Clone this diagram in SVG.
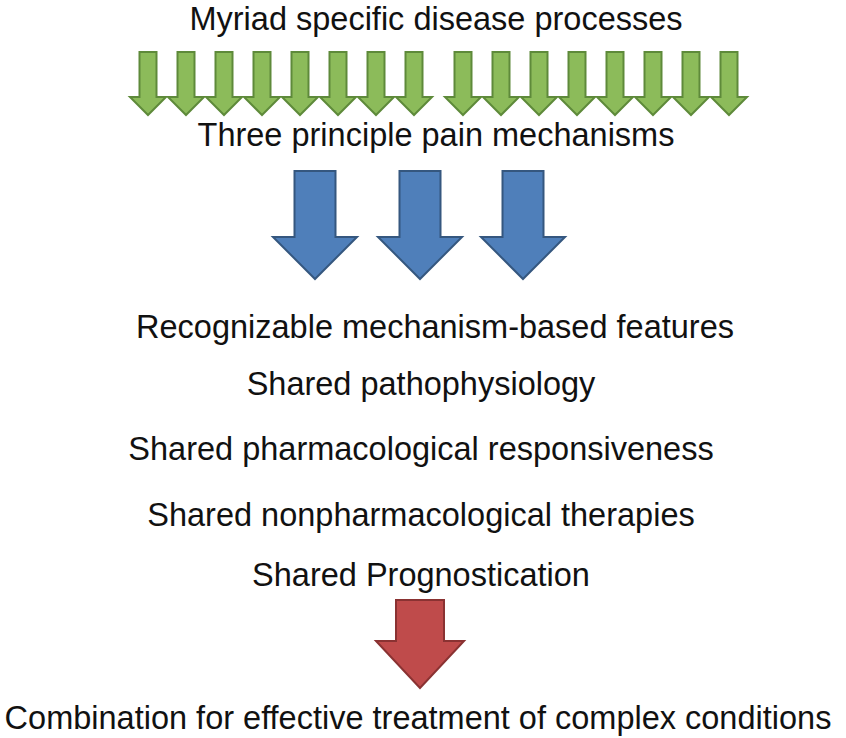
<svg xmlns="http://www.w3.org/2000/svg" width="846" height="738" viewBox="0 0 846 738">
<style>
text{font-family:"Liberation Sans",Arial,sans-serif;font-size:32.5px;fill:#111;text-anchor:middle}
.g{fill:#8cbb5a;stroke:#5e8a3a;stroke-width:2}
.b{fill:#4f7fba;stroke:#35577f;stroke-width:2}
.r{fill:#bf4b4b;stroke:#8a3232;stroke-width:2}
</style>
<defs>
<path id="ga" d="M-8.5,0 H8.5 V45 H18 L0,63 L-18,45 H-8.5 Z"/>
<path id="ba" d="M-20.5,0 H20.5 V66 H42 L0,108 L-42,66 H-20.5 Z"/>
</defs>
<rect width="846" height="738" fill="#fff"/>
<g id="texts">
<text x="436" y="30">Myriad specific disease processes</text>
<text x="436" y="146">Three principle pain mechanisms</text>
<text x="435" y="338">Recognizable mechanism-based features</text>
<text x="421" y="395">Shared pathophysiology</text>
<text x="421" y="460">Shared pharmacological responsiveness</text>
<text x="421" y="526">Shared nonpharmacological therapies</text>
<text x="421" y="586">Shared Prognostication</text>
<text x="418" y="729">Combination for effective treatment of complex conditions</text>
</g>
<g id="connectors">
<g class="g">
<use href="#ga" x="148" y="52"/><use href="#ga" x="186" y="52"/><use href="#ga" x="224" y="52"/><use href="#ga" x="262" y="52"/>
<use href="#ga" x="300" y="52"/><use href="#ga" x="338" y="52"/><use href="#ga" x="376" y="52"/><use href="#ga" x="414" y="52"/>
<use href="#ga" x="463" y="52"/><use href="#ga" x="501" y="52"/><use href="#ga" x="539" y="52"/><use href="#ga" x="577" y="52"/>
<use href="#ga" x="615" y="52"/><use href="#ga" x="653" y="52"/><use href="#ga" x="691" y="52"/><use href="#ga" x="729" y="52"/>
</g>
<g class="b">
<use href="#ba" x="315" y="171"/><use href="#ba" x="420" y="171"/><use href="#ba" x="523" y="171"/>
</g>
<path class="r" d="M396,600 H444 V641 H464 L420,688 L376,641 H396 Z"/>
</g>
</svg>
